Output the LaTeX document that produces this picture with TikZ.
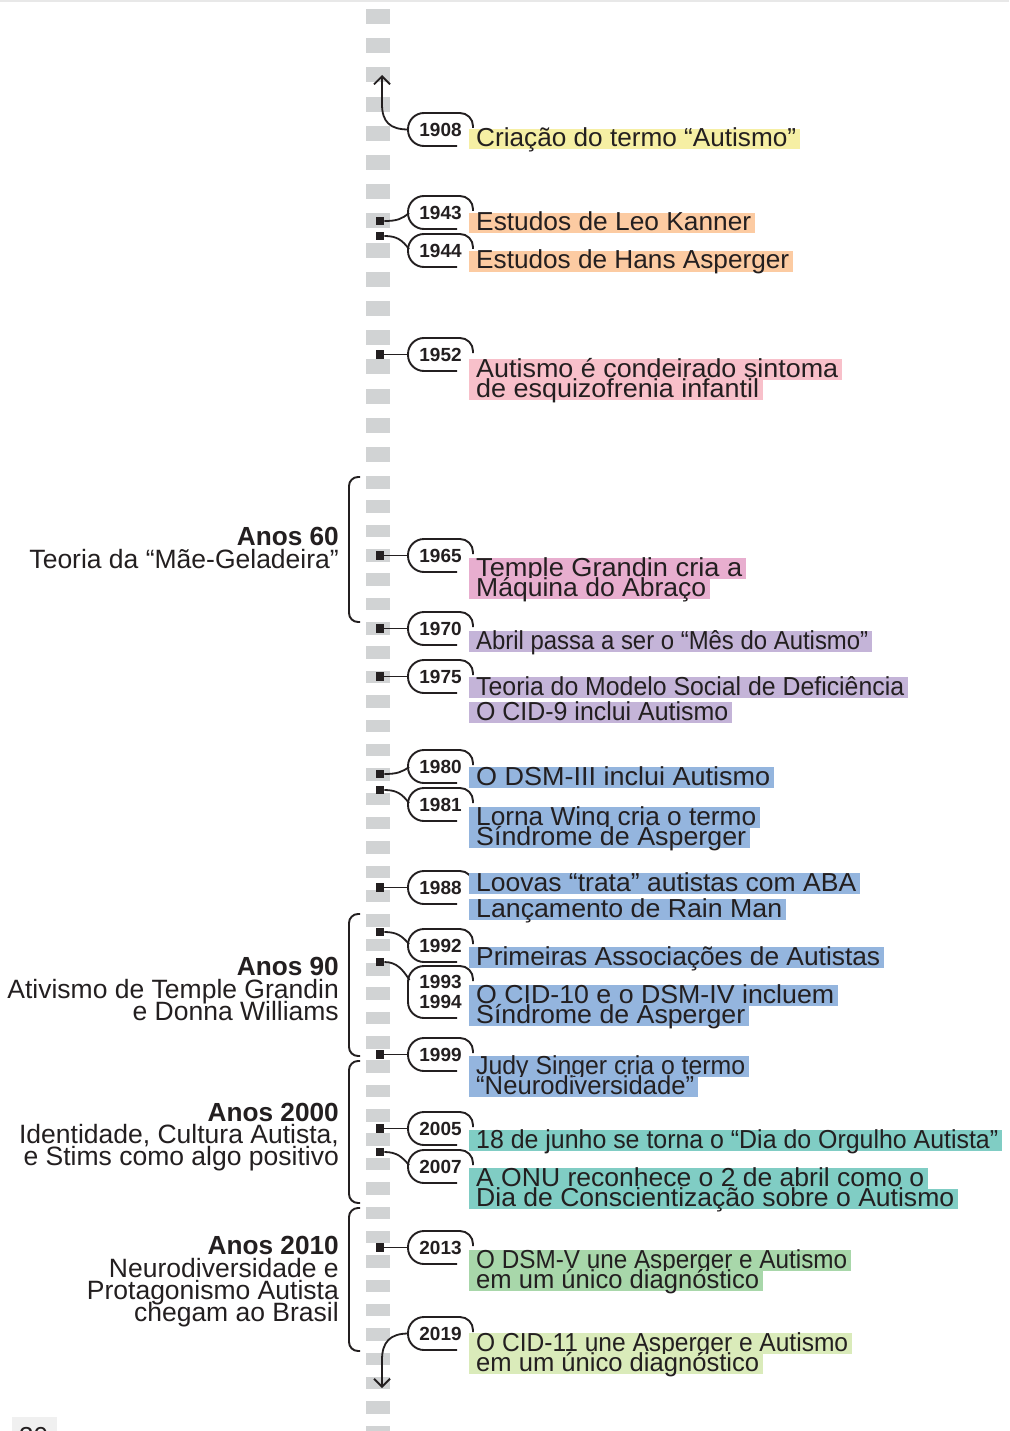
\documentclass[tikz,border=0pt]{standalone}
\usepackage{fontspec}
\usepackage{graphicx}
\setmainfont{Liberation Sans}
\usetikzlibrary{arrows.meta}
\definecolor{ink}{RGB}{35,31,32}
\definecolor{dashgray}{RGB}{209,211,212}
\definecolor{cyel}{RGB}{246,239,164}
\definecolor{cpeach}{RGB}{252,203,162}
\definecolor{cpink}{RGB}{248,192,202}
\definecolor{cmauve}{RGB}{232,174,207}
\definecolor{clav}{RGB}{196,180,216}
\definecolor{cblue}{RGB}{148,181,222}
\definecolor{cteal}{RGB}{128,205,196}
\definecolor{cgreen}{RGB}{168,215,170}
\definecolor{clgreen}{RGB}{218,235,186}
\newlength\fitlen
\newcommand\fitto[2]{\settowidth{\fitlen}{#2}\pgfmathsetmacro\fitfac{#1/\fitlen}\scalebox{\fitfac}[1]{#2}}
\tikzset{
  evtext/.style={anchor=base west,inner sep=0pt,font=\fontsize{26}{22}\selectfont,text=ink},
  lt/.style={anchor=base east,inner sep=0pt,font=\fontsize{26.5}{22}\selectfont,text=ink},
  ltb/.style={lt,font=\bfseries\fontsize{26.2}{22}\selectfont},
  yr/.style={inner sep=0pt,font=\bfseries\fontsize{19}{19}\selectfont,text=ink},
  bubline/.style={draw=ink,line width=1.9pt},
  conn/.style={draw=ink,line width=1.8pt},
  marker/.style={rectangle,fill=ink,draw=none,minimum size=8.5pt,inner sep=0pt},
  bracel/.style={draw=ink,line width=1.9pt,rounded corners=9pt},
  dashbox/.style={fill=dashgray},
  arr/.style={conn,-{Straight Barb[length=8pt,width=16pt,line width=1.8pt]}}
}
% #1 name, #2 colour, #3 top, #4 right, #5 text
\newcommand\hl[5]{%
  \fill[#2] (469,#3) rectangle (#4,#3+20.5);
  \pgfmathsetmacro\tw{#4-480}%
  \node[evtext] (#1) at (476,#3+18) {\fitto{\tw}{#5}};
}
% #1 top, #2 bottom
\newcommand\bub[2]{%
  \draw[bubline] (457,#2) -- (424,#2) arc[start angle=90,end angle=180,radius=16]
    -- (408,#1+16) arc[start angle=180,end angle=270,radius=16]
    -- (460,#1) arc[start angle=270,end angle=360,radius=13] -- (473,#1+15);
}
\begin{document}
\begin{tikzpicture}[x=1pt,y=-1pt]
\clip (0,0) rectangle (1009,1431);
\fill[white] (0,0) rectangle (1009,1431);
\fill[gray!18] (0,0) rectangle (1009,2.5);
% dashed timeline
\foreach \k in {0,...,15} \fill[dashbox] (366,9+29.2*\k) rectangle (390,24+29.2*\k);
\foreach \k in {0,...,39} \fill[dashbox] (366,476+24.35*\k) rectangle (390,488.5+24.35*\k);
% page number fragment
\fill[gray!12] (12,1417) rectangle (57,1431);
\node[anchor=base west,inner sep=0pt,font=\fontsize{26}{26}\selectfont,text=ink] (pg) at (19,1445) {30};
% braces
\draw[bracel] (360,477) -- (349,477) -- (349,622) -- (360,622);
\draw[bracel] (360,914) -- (349,914) -- (349,1056) -- (360,1056);
\draw[bracel] (360,1061) -- (349,1061) -- (349,1203) -- (360,1203);
\draw[bracel] (360,1208) -- (349,1208) -- (349,1351) -- (360,1351);
% left texts
\node[ltb] (a60h) at (339,545) {Anos 60};
\node[lt] (a60a) at (339,568) {Teoria da “Mãe-Geladeira”};
\node[ltb] (a90h) at (339,975) {Anos 90};
\node[lt] (a90a) at (339,998) {Ativismo de Temple Grandin};
\node[lt] (a90b) at (339,1020) {e Donna Williams};
\node[ltb] (a00h) at (339,1121) {Anos 2000};
\node[lt] (a00a) at (339,1143) {Identidade, Cultura Autista,};
\node[lt] (a00b) at (339,1165) {e Stims como algo positivo};
\node[ltb] (a10h) at (339,1254) {Anos 2010};
\node[lt] (a10a) at (339,1277) {Neurodiversidade e};
\node[lt] (a10b) at (339,1299) {Protagonismo Autista};
\node[lt] (a10c) at (339,1321) {chegam ao Brasil};
% bubbles
\bub{113}{146}
\bub{196}{229}
\bub{234}{267}
\bub{338}{371}
\bub{539}{572}
\bub{612}{645}
\bub{660}{693}
\bub{750}{783}
\bub{788}{821}
\bub{871}{904}
\bub{929}{962}
\bub{966}{1018}
\bub{1038}{1071}
\bub{1112}{1145}
\bub{1150}{1183}
\bub{1231}{1264}
\bub{1317}{1350}
% bubble attach points
\coordinate (b1908) at (408.5,129.5);
\coordinate (b1943) at (409,213);
\coordinate (b1944) at (409,249);
\coordinate (b1952) at (408,354.5);
\coordinate (b1965) at (408,555.5);
\coordinate (b1970) at (408,628.5);
\coordinate (b1975) at (408,676.5);
\coordinate (b1980) at (409,767);
\coordinate (b1981) at (409,803);
\coordinate (b1988) at (408,887.5);
\coordinate (b1992) at (409,944);
\coordinate (b1993) at (409.5,980);
\coordinate (b1999) at (408,1054.5);
\coordinate (b2005) at (408,1128.5);
\coordinate (b2007) at (409,1165);
\coordinate (b2013) at (408,1247.5);
\coordinate (b2019) at (408.5,1333.5);
% markers
\node[marker] (m1943) at (380,221) {};
\node[marker] (m1944) at (380,236) {};
\node[marker] (m1952) at (380,354.5) {};
\node[marker] (m1965) at (380,555.5) {};
\node[marker] (m1970) at (380,628.5) {};
\node[marker] (m1975) at (380,676.5) {};
\node[marker] (m1980) at (380,774) {};
\node[marker] (m1981) at (380,790) {};
\node[marker] (m1988) at (380,887.5) {};
\node[marker] (m1992) at (380,932) {};
\node[marker] (m1993) at (380,962) {};
\node[marker] (m1999) at (380,1054.5) {};
\node[marker] (m2005) at (380,1128.5) {};
\node[marker] (m2007) at (380,1152) {};
\node[marker] (m2013) at (380,1247.5) {};
% connectors
\draw[arr] (b1908) .. controls (390,129.5) and (382,122) .. (382,104) -- (382,75);
\draw[arr] (b2019) .. controls (390,1333.5) and (382,1342) .. (382,1360) -- (382,1388);
\draw[conn] (m1943.east) .. controls (397,221) and (402,219) .. (b1943);
\draw[conn] (m1944.east) .. controls (397,236) and (402,240) .. (b1944);
\draw[conn] (m1952.east) -- (b1952);
\draw[conn] (m1965.east) -- (b1965);
\draw[conn] (m1970.east) -- (b1970);
\draw[conn] (m1975.east) -- (b1975);
\draw[conn] (m1980.east) .. controls (397,774) and (402,772) .. (b1980);
\draw[conn] (m1981.east) .. controls (397,790) and (402,794) .. (b1981);
\draw[conn] (m1988.east) -- (b1988);
\draw[conn] (m1992.east) .. controls (397,932) and (402,936) .. (b1992);
\draw[conn] (m1993.east) .. controls (397,962) and (403,970) .. (b1993);
\draw[conn] (m1999.east) -- (b1999);
\draw[conn] (m2005.east) -- (b2005);
\draw[conn] (m2007.east) .. controls (397,1152) and (402,1157) .. (b2007);
\draw[conn] (m2013.east) -- (b2013);
% highlighted event texts
\hl{t1908}{cyel}{129}{800}{Criação do termo “Autismo”}
\hl{t1943}{cpeach}{213}{755}{Estudos de Leo Kanner}
\hl{t1944}{cpeach}{251}{793}{Estudos de Hans Asperger}
\hl{t1952a}{cpink}{359}{842}{Autismo é condeirado sintoma}
\hl{t1952b}{cpink}{379.5}{763}{de esquizofrenia infantil}
\hl{t1965a}{cmauve}{558}{746}{Temple Grandin cria a}
\hl{t1965b}{cmauve}{578}{710}{Máquina do Abraço}
\hl{t1970}{clav}{631}{872}{Abril passa a ser o “Mês do Autismo”}
\hl{t1975a}{clav}{677}{908}{Teoria do Modelo Social de Deficiência}
\hl{t1975b}{clav}{702}{732}{O CID-9 inclui Autismo}
\hl{t1980}{cblue}{767}{774}{O DSM-III inclui Autismo}
\hl{t1981a}{cblue}{807}{760}{Lorna Wing cria o termo}
\hl{t1981b}{cblue}{827}{750}{Síndrome de Asperger}
\hl{t1988a}{cblue}{873}{860}{Loovas “trata” autistas com ABA}
\hl{t1988b}{cblue}{899}{786}{Lançamento de Rain Man}
\hl{t1992}{cblue}{947}{884}{Primeiras Associações de Autistas}
\hl{t1993a}{cblue}{985}{838}{O CID-10 e o DSM-IV incluem}
\hl{t1993b}{cblue}{1005.5}{749}{Síndrome de Asperger}
\hl{t1999a}{cblue}{1056}{749}{Judy Singer cria o termo}
\hl{t1999b}{cblue}{1076.5}{698}{“Neurodiversidade”}
\hl{t2005}{cteal}{1130}{1002}{18 de junho se torna o “Dia do Orgulho Autista”}
\hl{t2007a}{cteal}{1168}{928}{A ONU reconhece o 2 de abril como o}
\hl{t2007b}{cteal}{1188.5}{958}{Dia de Conscientização sobre o Autismo}
\hl{t2013a}{cgreen}{1250}{851}{O DSM-V une Asperger e Autismo}
\hl{t2013b}{cgreen}{1270.5}{763}{em um único diagnóstico}
\hl{t2019a}{clgreen}{1333}{852}{O CID-11 une Asperger e Autismo}
\hl{t2019b}{clgreen}{1353.5}{763}{em um único diagnóstico}
% year labels
\node[yr] (y1908) at (440.5,129.5) {1908};
\node[yr] (y1943) at (440.5,212.5) {1943};
\node[yr] (y1944) at (440.5,250.5) {1944};
\node[yr] (y1952) at (440.5,354.5) {1952};
\node[yr] (y1965) at (440.5,555.5) {1965};
\node[yr] (y1970) at (440.5,628.5) {1970};
\node[yr] (y1975) at (440.5,676.5) {1975};
\node[yr] (y1980) at (440.5,766.5) {1980};
\node[yr] (y1981) at (440.5,804.5) {1981};
\node[yr] (y1988) at (440.5,887.5) {1988};
\node[yr] (y1992) at (440.5,945.5) {1992};
\node[yr] (y1993) at (440.5,982) {1993};
\node[yr] (y1994) at (440.5,1002) {1994};
\node[yr] (y1999) at (440.5,1054.5) {1999};
\node[yr] (y2005) at (440.5,1128.5) {2005};
\node[yr] (y2007) at (440.5,1166.5) {2007};
\node[yr] (y2013) at (440.5,1247.5) {2013};
\node[yr] (y2019) at (440.5,1333.5) {2019};
\end{tikzpicture}
\end{document}
